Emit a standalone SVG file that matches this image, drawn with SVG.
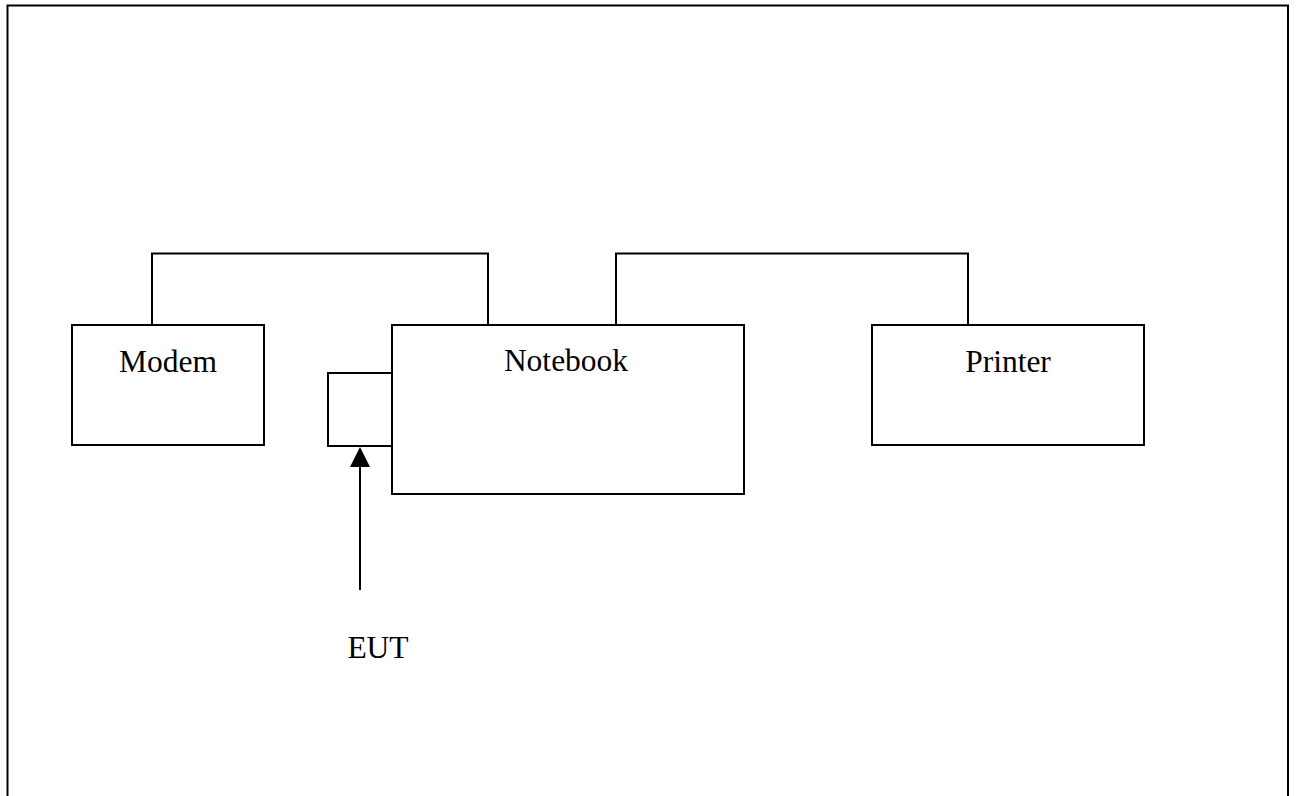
<svg xmlns="http://www.w3.org/2000/svg" width="1297" height="796" viewBox="0 0 1297 796">
<defs>
<style>
.box{fill:#fff;stroke:#000;stroke-width:2}
.ln{fill:none;stroke:#000;stroke-width:2}
.lbl{font-family:"Liberation Serif","Times New Roman",serif;font-size:31.5px;fill:#000;text-anchor:middle}
</style>
</defs>
<rect width="1297" height="796" fill="#fff"/>
<path class="ln" d="M7.5,796 V5.5 H1288 V796"/>
<g id="connectors">
<path class="ln" d="M152,325 V253.5 H488 V325"/>
<path class="ln" d="M616,325 V253.5 H968 V325"/>
<line x1="360" y1="590" x2="360" y2="466" stroke="#000" stroke-width="2"/>
<path d="M350,467 L360,447 L370,467 Z" fill="#000"/>
</g>
<g id="modem">
<rect class="box" x="72" y="325" width="192" height="120"/>
<text class="lbl" x="168" y="371.5">Modem</text>
</g>
<g id="notebook">
<rect class="box" x="392" y="325" width="352" height="169"/>
<text class="lbl" x="566" y="370.5">Notebook</text>
</g>
<g id="eut-port">
<rect class="box" x="328" y="373" width="64" height="73"/>
</g>
<g id="printer">
<rect class="box" x="872" y="325" width="272" height="120"/>
<text class="lbl" x="1008" y="371.5">Printer</text>
</g>
<g id="eut-label">
<text class="lbl" x="378" y="657.5">EUT</text>
</g>
</svg>
